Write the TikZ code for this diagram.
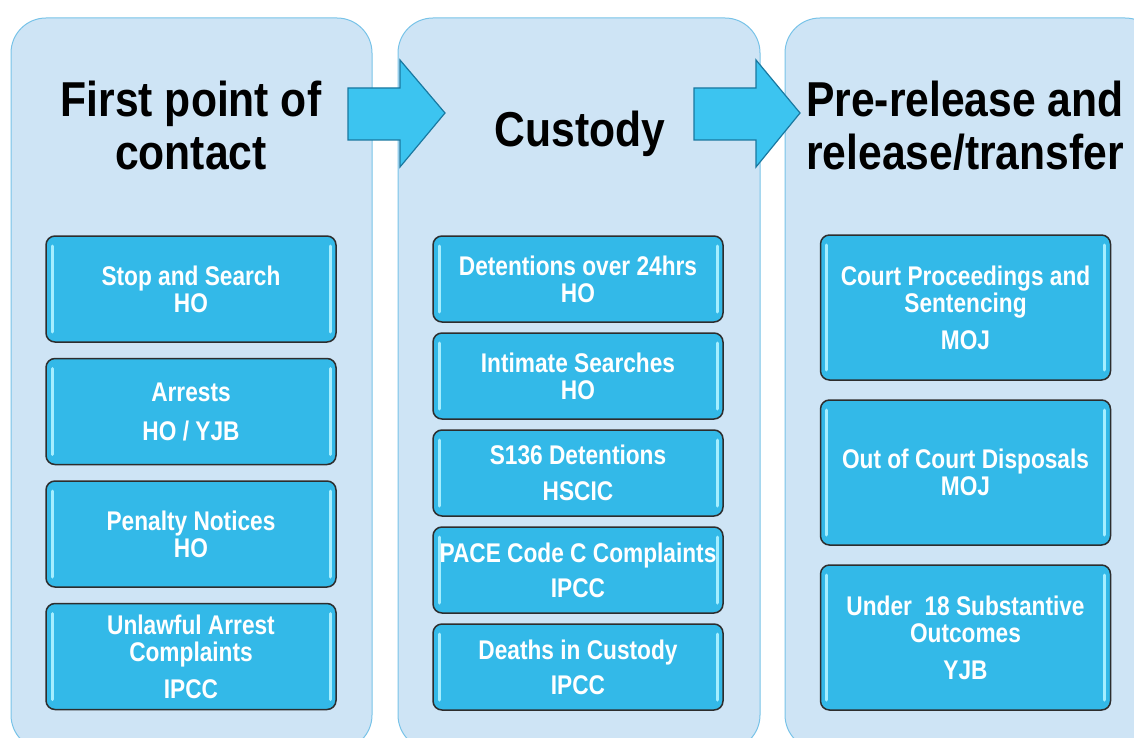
\documentclass[tikz,border=0pt]{standalone}
\usepackage{fontspec}
\usepackage{xcolor}
\usepackage{tikz}
\usetikzlibrary{positioning}
\newfontfamily\headfont[FakeStretch=0.87]{Liberation Sans}
\newfontfamily\cellfont[FakeStretch=0.84]{Liberation Sans}
\definecolor{panelfill}{RGB}{206,228,245}
\definecolor{paneledge}{RGB}{120,195,232}
\definecolor{boxfill}{RGB}{51,185,232}
\definecolor{boxedge}{RGB}{45,45,45}
\definecolor{glintcol}{RGB}{165,238,255}
\definecolor{arrowfill}{RGB}{60,196,240}
\definecolor{arrowedge}{RGB}{25,120,160}

\begin{document}
\begin{tikzpicture}[x=1pt,y=-1pt,node distance=15pt]

  \useasboundingbox (0,0) rectangle (1134,738);

  \tikzstyle{stage}=[fill=panelfill,draw=paneledge,line width=1pt,rounded corners=35pt]
  \tikzstyle{heading}=[font=\headfont\bfseries\fontsize{49}{53}\selectfont,align=center,text=black]
  \tikzstyle{glint}=[draw=glintcol,line width=3pt,line cap=round]
  \tikzstyle{databox}=[draw=boxedge,line width=1.5pt,fill=boxfill,rounded corners=9pt,
    minimum width=290,text=white,align=center,
    font=\cellfont\bfseries\fontsize{27}{27}\selectfont,
    path picture={
      \draw[glint] ([shift={(6pt,-10pt)}]path picture bounding box.north west)
        -- ([shift={(6pt,10pt)}]path picture bounding box.south west);
      \draw[glint] ([shift={(-6pt,-10pt)}]path picture bounding box.north east)
        -- ([shift={(-6pt,10pt)}]path picture bounding box.south east);
    }]
  \tikzstyle{flow}=[fill=arrowfill,draw=arrowedge,line width=1.2pt,line join=miter]

  % stages
  \node[stage,minimum width=361,minimum height=732] (contact) at (191.5,384) {};
  \node[stage,minimum width=362,minimum height=732] (custody) at (579,384) {};
  \node[stage,minimum width=375,minimum height=732] (release) at (972.5,384) {};

  % arrows between stages
  \draw[flow] (348,88) -- (400,88) -- (400,60) -- (445,113) -- (400,167) -- (400,140) -- (348,140) -- cycle;
  \draw[flow] (694,88) -- (756,88) -- (756,60) -- (800,113) -- (756,167) -- (756,140) -- (694,140) -- cycle;

  % headings
  \node[heading,anchor=base] (contacttitle) at (191,170) {First point of\\contact};
  \node[heading,anchor=base] (custodytitle) at (580,147) {Custody};
  \node[heading,anchor=base] (releasetitle) at (965,170) {Pre-release and\\release/transfer};

  % first point of contact
  \node[databox,minimum height=106] (stop) at (191,289) {Stop and Search\\HO};
  \node[databox,minimum height=106,below=of stop] (arrests) {Arrests\\[12pt]HO / YJB};
  \node[databox,minimum height=106,below=of arrests] (penalty) {Penalty Notices\\HO};
  \node[databox,minimum height=106,below=of penalty] (unlawful) {Unlawful Arrest\\Complaints\\[10pt]IPCC};

  % custody
  \node[databox,minimum height=86] (detain) at (578,279) {Detentions over 24hrs\\HO};
  \node[databox,minimum height=86,below=9.5pt of detain] (intimate) {Intimate Searches\\HO};
  \node[databox,minimum height=86,below=9.5pt of intimate] (sdetain) {S136 Detentions\\[9pt]HSCIC};
  \node[databox,minimum height=86,below=9.5pt of sdetain] (pace) {PACE Code C Complaints\\[8pt]IPCC};
  \node[databox,minimum height=86,below=9.5pt of pace] (deaths) {Deaths in Custody\\[8pt]IPCC};

  % pre-release and release/transfer
  \node[databox,minimum height=145] (court) at (965.5,307.5) {Court Proceedings and\\Sentencing\\[10pt]MOJ};
  \node[databox,minimum height=145,below=18.5pt of court] (disposal) {Out of Court Disposals\\MOJ};
  \node[databox,minimum height=145,below=18.5pt of disposal] (under) {Under\ \ 18 Substantive\\Outcomes\\[10pt]YJB};

\end{tikzpicture}
\end{document}
